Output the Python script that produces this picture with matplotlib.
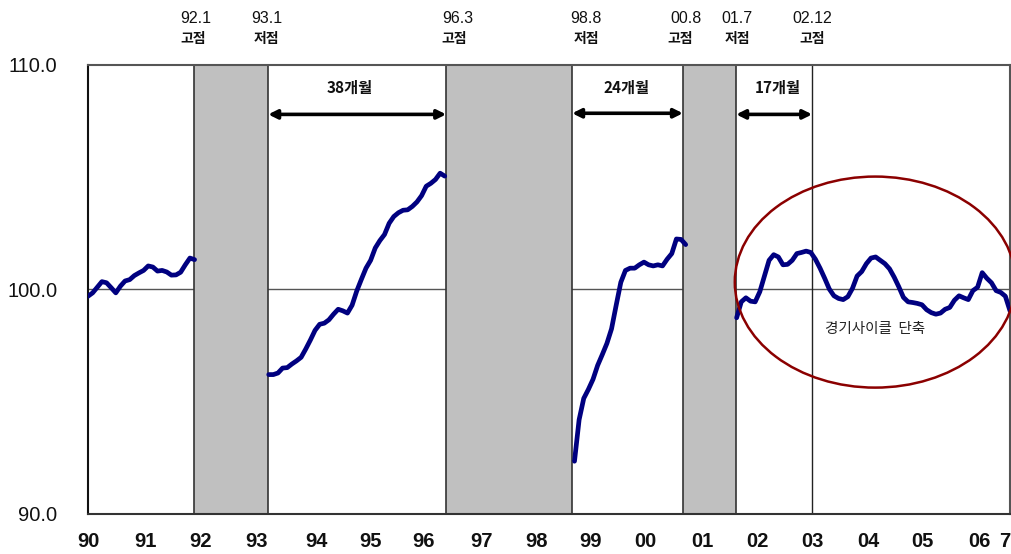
import matplotlib
matplotlib.use("Agg")
import matplotlib.pyplot as plt
from matplotlib.patches import Ellipse, Rectangle
import numpy as np

# ---------------- data (monthly index, month 0 = 1990.01) ----------------
seg1_start = 0
seg1 = [99.70, 99.85, 100.10, 100.35, 100.30, 100.08, 99.85, 100.15, 100.38, 100.44,
        100.62, 100.74, 100.85, 101.05, 101.00, 100.82, 100.85, 100.78, 100.64, 100.65,
        100.77, 101.10, 101.40, 101.33]
seg2_start = 39
seg2 = [96.21, 96.21, 96.28, 96.50, 96.52, 96.68, 96.82, 96.98, 97.35, 97.75,
        98.18, 98.45, 98.50, 98.65, 98.90, 99.12, 99.05, 98.95, 99.30, 99.93,
        100.45, 100.95, 101.30, 101.85, 102.18, 102.45, 102.95, 103.25, 103.42, 103.53,
        103.55, 103.70, 103.90, 104.18, 104.60, 104.73, 104.90, 105.18, 105.05]
seg3_start = 105
seg3 = [92.35, 94.20, 95.15, 95.55, 96.00, 96.62, 97.10, 97.60, 98.25, 99.30,
        100.32, 100.85, 100.95, 100.95, 101.10, 101.22, 101.10, 101.05, 101.10, 101.05,
        101.35, 101.60, 102.25, 102.23, 102.00]
seg4_start = 140
seg4 = [98.74, 99.45, 99.63, 99.48, 99.45, 99.90, 100.60, 101.30, 101.55, 101.45,
        101.10, 101.12, 101.30, 101.60, 101.65, 101.71, 101.65, 101.35, 100.95, 100.50,
        100.02, 99.72, 99.60, 99.55, 99.68, 100.05, 100.60, 100.80, 101.15, 101.40,
        101.45, 101.30, 101.15, 100.92, 100.55, 100.12, 99.65, 99.45, 99.42, 99.38,
        99.32, 99.10, 98.97, 98.90, 98.95, 99.12, 99.20, 99.52, 99.72, 99.63,
        99.55, 99.95, 100.10, 100.75, 100.50, 100.30, 99.95, 99.87, 99.70, 99.05]

year_labels = ["90", "91", "92", "93", "94", "95", "96", "97", "98", "99",
               "00", "01", "02", "03", "04", "05", "06", "7"]
y_ticks = [90, 100, 110]
y_labels = ["90.0", "100.0", "110.0"]

# turning points: (date label, 고점/저점)
turn_dates = ["92.1", "93.1", "96.3", "98.8", "00.8", "01.7", "02.12"]
turn_kind = ["고점", "저점", "고점", "저점", "고점", "저점", "고점"]
durations = ["38개월", "24개월", "17개월"]
note = "경기사이클  단축"

# ---------------- layout ----------------
tick_pos = [0.2, 12.3, 24.2, 36.3, 49.4, 60.9, 72.5, 85.0, 96.7, 108.4,
            120.4, 132.5, 144.4, 156.3, 168.4, 180.2, 192.5, 197.9]
shade_spans = [(22.9, 38.9), (77.3, 104.5), (128.4, 139.9)]
vline_x = 156.3
turn_date_x = [23.3, 38.6, 79.9, 107.5, 129.1, 140.1, 156.3]
turn_kind_x = [22.6, 38.6, 79.0, 107.5, 127.8, 140.1, 156.3]
arrow_spans = [(38.9, 77.3), (104.5, 128.4), (139.9, 156.3)]
arrow_y = [107.8, 107.85, 107.8]
dur_x = [56.5, 116.3, 148.9]

W, H = 1012, 554
fig = plt.figure(figsize=(W / 100, H / 100), dpi=100)
ax = fig.add_axes([88 / W, 1 - 514 / H, (1010 - 88) / W, (514 - 65) / H])
ax.set_xlim(0, 199)
ax.set_ylim(90, 110)

LAT = "Liberation Sans"
KR = "Noto Sans CJK KR"

# horizontal reference at 100
ax.axhline(100, color="#555555", lw=1.0, zorder=1)
# vertical line at 02.12
ax.axvline(vline_x, color="#222222", lw=1.0, zorder=1)

# shaded boxes
for a, b in shade_spans:
    ax.add_patch(Rectangle((a, 90), b - a, 20, facecolor="#C0C0C0",
                           edgecolor="#333333", lw=1.2, zorder=2))

# series
for start, vals in [(seg1_start, seg1), (seg2_start, seg2),
                    (seg3_start, seg3), (seg4_start, seg4)]:
    x = np.arange(start, start + len(vals))
    ax.plot(x, vals, color="#000080", lw=3.4, solid_capstyle="round",
            solid_joinstyle="round", zorder=4)

# ellipse
ax.add_patch(Ellipse((169.9, 100.33), 60.6, 9.4, fill=False,
                     edgecolor="#8B0000", lw=1.8, zorder=5, clip_on=False))
ax.text(169.9, 98.22, note, ha="center", va="center", fontsize=10.5,
        family=KR, color="#222222", zorder=6)

# arrows + durations
for (a, b), yy, lab, lx in zip(arrow_spans, arrow_y, durations, dur_x):
    ax.annotate("", xy=(b, yy), xytext=(a, yy),
                arrowprops=dict(arrowstyle="<|-|>", color="black", lw=2.6,
                                mutation_scale=13, shrinkA=0, shrinkB=0),
                zorder=6)
    ax.text(lx, 109.0, lab, ha="center", va="center", fontsize=11,
            family=[KR], fontweight="bold", color="#111111")

# turning point labels above plot
for d, k, dx, kx in zip(turn_dates, turn_kind, turn_date_x, turn_kind_x):
    ax.text(dx, 112.07, d, ha="center", va="center", fontsize=11.5,
            family=LAT, color="#111111", clip_on=False)
    ax.text(kx, 111.18, k, ha="center", va="center", fontsize=10,
            family=KR, fontweight="bold", color="#111111", clip_on=False)

# axes styling
ax.set_xticks(tick_pos)
ax.set_xticklabels(year_labels, fontsize=14.5, family=LAT, fontweight="bold",
                   color="#111111")
ax.set_yticks(y_ticks)
ax.set_yticklabels(y_labels, fontsize=14.5, family=LAT, color="#111111")
ax.tick_params(axis="x", length=0, pad=13)
ax.tick_params(axis="y", length=0, pad=22)
for s in ax.spines.values():
    s.set_color("#555555")
    s.set_linewidth(1.5)
ax.spines["left"].set_color("#111111")
ax.spines["bottom"].set_color("#333333")

fig.savefig("out.png", dpi=100)
